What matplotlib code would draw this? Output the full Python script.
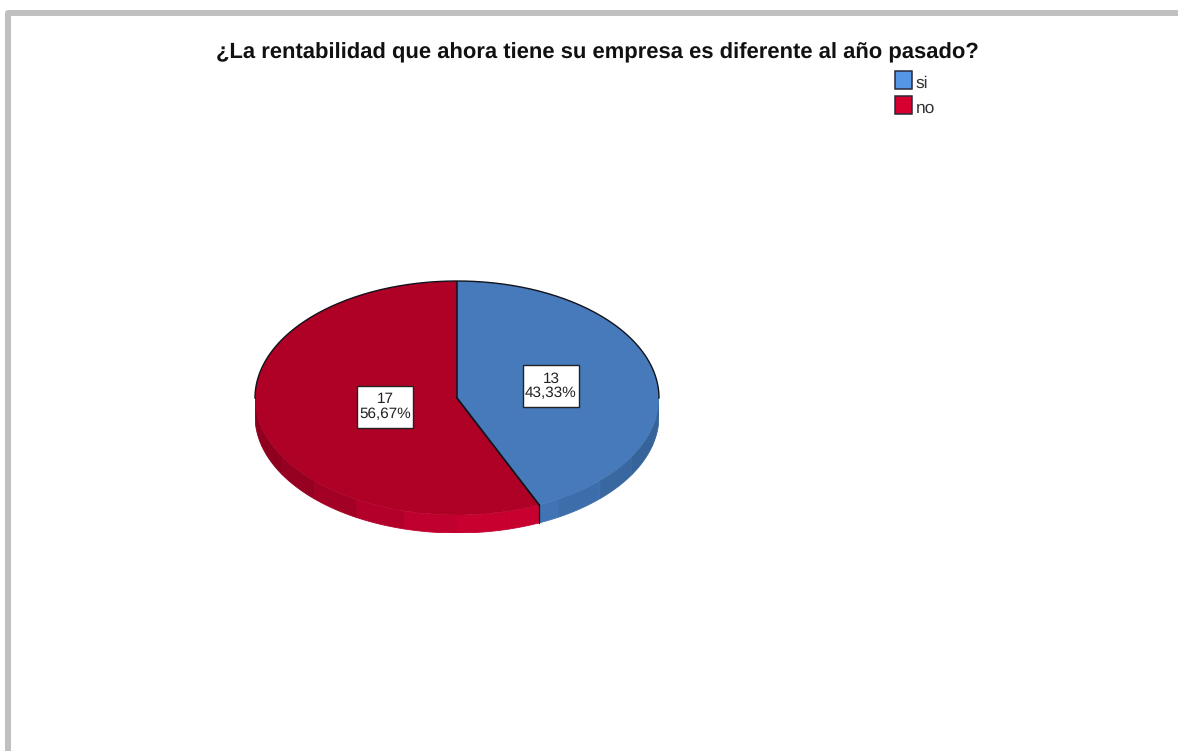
import numpy as np
import matplotlib
matplotlib.use('Agg')
import matplotlib.pyplot as plt
from matplotlib.patches import Rectangle

# Data
title = '¿La rentabilidad que ahora tiene su empresa es diferente al año pasado?'
categories = ['si', 'no']
counts = [13, 17]
pct_labels = ['43,33%', '56,67%']

top_colors = ['#477ABA', '#AF0026']
legend_colors = ['#5596E6', '#D5002F']
wall_bright = [np.array([0x4A, 0x82, 0xCC]), np.array([0xC8, 0x00, 0x30])]
wall_dark = [np.array([0x36, 0x62, 0x98]), np.array([0x8E, 0x00, 0x1F])]

plt.rcParams['font.family'] = ['Liberation Sans', 'DejaVu Sans']
plt.rcParams['text.hinting'] = 'none'

fig = plt.figure(figsize=(11.78, 7.51), dpi=100)
W, H = 1178, 751

# Overlay in pixel coords for frame, title, legend, labels
ov = fig.add_axes([0, 0, 1, 1], zorder=3)
ov.set_xlim(0, W)
ov.set_ylim(H, 0)
ov.axis('off')

# Grey window border
ov.plot([8, 8, W + 5], [H + 5, 13, 13], color='#C0C0C0', lw=4.3,
        solid_joinstyle='round', solid_capstyle='butt')

ov.text(597.5, 52.5, title, ha='center', va='center', fontsize=15.8,
        fontweight='bold', color='#111111')

# Legend
legend_y = [71, 96]
for name, col, y in zip(categories, legend_colors, legend_y):
    ov.add_patch(Rectangle((894.5, y), 17, 18, fc=col, ec='#2A2A3A', lw=1.1))
    ov.text(916, y + 12, name, ha='left', va='center', fontsize=12.5,
            color='#333333')

# Pie, stretched to an ellipse
cx, cy, rx, ry, depth = 457, 398, 202, 117, 18
pie_ax = fig.add_axes([(cx - rx) / W, 1 - (cy + ry + depth) / H,
                       2 * rx / W, (2 * ry + depth) / H], zorder=1)
wedges, _ = pie_ax.pie(counts, colors=top_colors, startangle=90, counterclock=False,
                       radius=1, center=(0, 0),
                       wedgeprops={'edgecolor': 'none', 'linewidth': 0, 'zorder': 3})
pie_ax.set_aspect('auto')
pie_ax.set_xlim(-1, 1)
dz = depth / ry
pie_ax.set_ylim(-1 - dz, 1)

# Side wall, visible only on the lower half, in coarse shading bands
fractions = np.cumsum([0] + counts) / sum(counts)
angles = 90 - 360 * fractions
band = 15.0
for i in range(len(counts)):
    a0, a1 = angles[i], angles[i + 1]
    grid = np.arange(np.floor(a0 / band) * band, a1 - band, -band)
    edges = np.concatenate([[a0], grid[(grid < a0) & (grid > a1)], [a1]])
    for s, e in zip(edges[:-1], edges[1:]):
        if np.sin(np.radians(s)) > 0.02 and np.sin(np.radians(e)) > 0.02:
            continue
        t = np.radians(np.linspace(s, e, 12))
        x = np.cos(t)
        y = np.minimum(np.sin(t), 0.0)
        k = abs(np.cos(np.radians((s + e) / 2 + 15 * (1 if i == 0 else -1)))) ** 2
        col = (wall_bright[i] * (1 - k) + wall_dark[i] * k) / 255
        pie_ax.fill(np.r_[x, x[::-1]], np.r_[y, y[::-1] - dz], fc=col, ec=col, lw=0.6, zorder=1)

# Outline: upper rim and the slice boundaries
line_col = '#10131C'
t = np.radians(np.linspace(0, 180, 200))
pie_ax.plot(np.cos(t), np.sin(t), color=line_col, lw=1.0, zorder=4, clip_on=False)
a_edge = np.radians(angles[1])
pie_ax.plot([0, 0], [0, 1], color=line_col, lw=1.1, zorder=4)
pie_ax.plot([0, np.cos(a_edge)], [0, np.sin(a_edge)], color=line_col, lw=1.3, zorder=4)
pie_ax.plot([np.cos(a_edge)] * 2, [np.sin(a_edge), np.sin(a_edge) - dz],
            color=line_col, lw=0.9, zorder=4)

# Value labels
label_boxes = [(523, 365), (357, 386)]
for n, pct, (bx, by) in zip(counts, pct_labels, label_boxes):
    ov.add_patch(Rectangle((bx, by), 56, 42, fc='white', ec='#222222', lw=1.0))
    ov.text(bx + 28, by + 13.5, str(n), ha='center', va='center', fontsize=11, color='#222222')
    ov.text(bx + 28, by + 28, pct, ha='center', va='center', fontsize=11, color='#222222')

fig.savefig('out.png', dpi=100)
